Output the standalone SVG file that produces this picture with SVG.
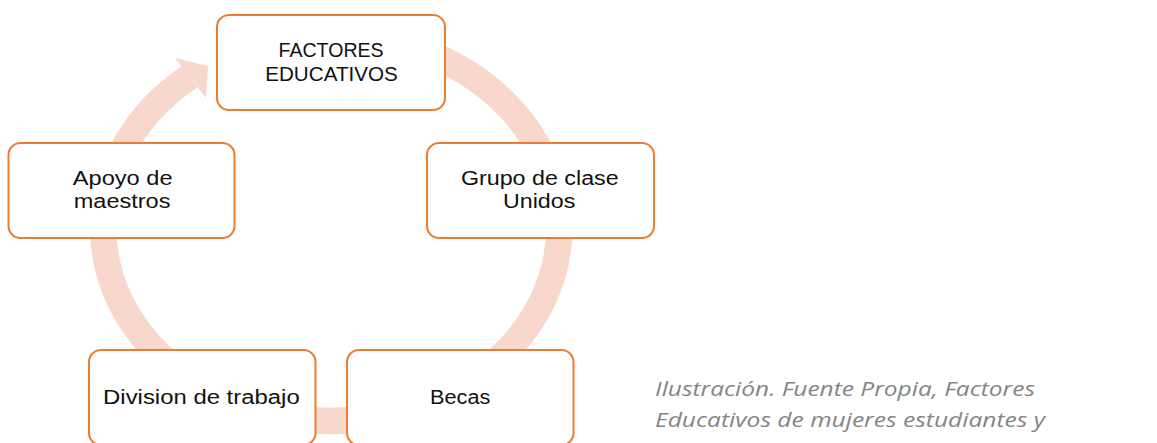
<svg xmlns="http://www.w3.org/2000/svg" width="1157" height="443" viewBox="0 0 1157 443">
  <style>
    .box { fill: #FFFFFF; stroke: #ED7D31; stroke-width: 2; }
    .lbl { font-family: "Liberation Sans", Arial, sans-serif; font-size: 19.5px; fill: #111111; }
    .ring { fill: none; stroke: #F8D8CC; stroke-width: 26.5; }
    .head { fill: #F8D8CC; stroke: none; }
    .cap { font-family: "Open Sans", "Liberation Sans", sans-serif; font-style: italic; font-size: 20px; fill: #858585; }
  </style>
  <rect width="1157" height="443" fill="#FFFFFF"/>
  <g id="connectors">
    <path class="ring" d="M 331 35 A 228 193 0 1 1 190 76.5"/>
    <polygon class="head" points="175,58 208,66 206,98"/>
  </g>
  <g id="node-factores">
    <rect class="box" x="217" y="15" width="228" height="95" rx="12"/>
    <text class="lbl" x="278.6" y="57.3" textLength="105" lengthAdjust="spacingAndGlyphs">FACTORES</text>
    <text class="lbl" x="265.2" y="80.7" textLength="132.6" lengthAdjust="spacingAndGlyphs">EDUCATIVOS</text>
  </g>
  <g id="node-grupo">
    <rect class="box" x="427" y="143" width="227" height="95" rx="12"/>
    <text class="lbl" x="460.9" y="185" textLength="157.8" lengthAdjust="spacingAndGlyphs">Grupo de clase</text>
    <text class="lbl" x="503" y="208.3" textLength="72.3" lengthAdjust="spacingAndGlyphs">Unidos</text>
  </g>
  <g id="node-apoyo">
    <rect class="box" x="8.5" y="143" width="226" height="95" rx="12"/>
    <text class="lbl" x="72.8" y="185" textLength="99.8" lengthAdjust="spacingAndGlyphs">Apoyo de</text>
    <text class="lbl" x="73.7" y="208.3" textLength="96.8" lengthAdjust="spacingAndGlyphs">maestros</text>
  </g>
  <g id="node-division">
    <rect class="box" x="89" y="350" width="226.5" height="95" rx="12"/>
    <text class="lbl" x="103.1" y="404" textLength="196.6" lengthAdjust="spacingAndGlyphs">Division de trabajo</text>
  </g>
  <g id="node-becas">
    <rect class="box" x="347" y="350" width="226.5" height="95" rx="12"/>
    <text class="lbl" x="430.1" y="404" textLength="60.2" lengthAdjust="spacingAndGlyphs">Becas</text>
  </g>
  <g id="caption">
    <text class="cap" x="655" y="395.6" textLength="380" lengthAdjust="spacingAndGlyphs">Ilustración. Fuente Propia, Factores</text>
    <text class="cap" x="655" y="426.5" textLength="390" lengthAdjust="spacingAndGlyphs">Educativos de mujeres estudiantes y</text>
  </g>
</svg>
